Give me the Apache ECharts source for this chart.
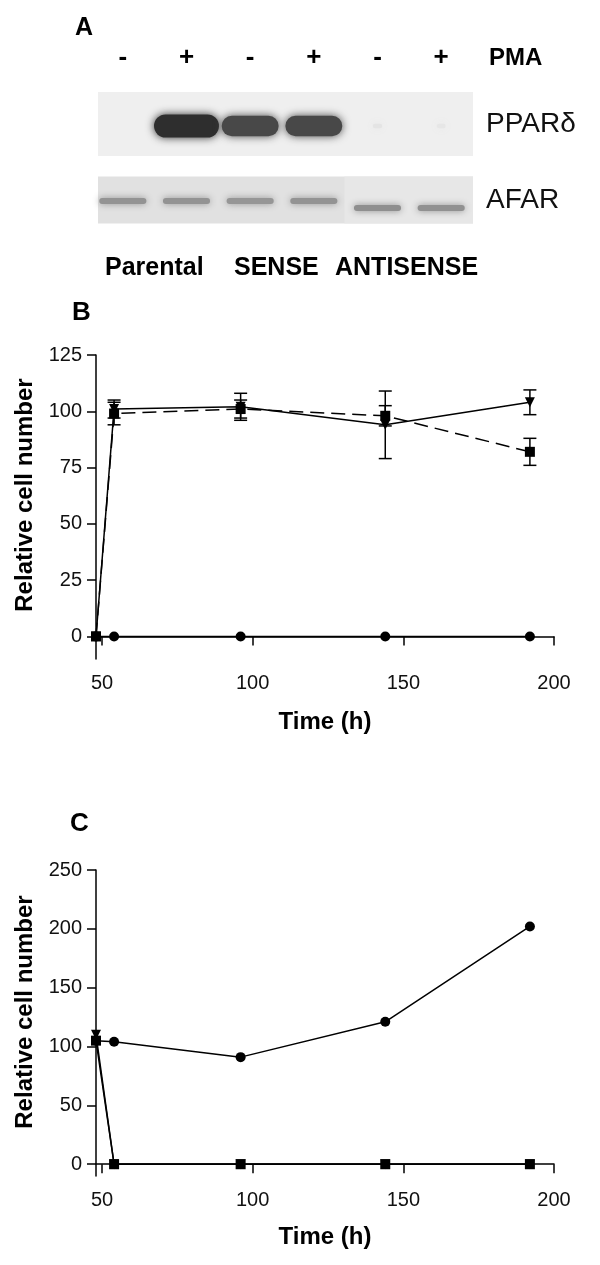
<!DOCTYPE html>
<html><head><meta charset="utf-8">
<script src="https://cdn.jsdelivr.net/npm/echarts@6/dist/echarts.min.js"></script>
<style>html,body{margin:0;padding:0;background:#fff}#c{width:600px;height:1265px}</style>
</head><body><div id="c"></div>
<script>
// ---- Panel A (western blot) ----
const lanes = ['L1','L2','L3','L4','L5','L6'];
const pmaSigns = ['-','+','-','+','-','+'];
const blotRows = ['PPARδ','AFAR'];
const pparIntensity = [0, 1, 0.86, 0.86, 0.03, 0.02];
const afarIntensity = [0.5, 0.5, 0.47, 0.5, 0.55, 0.52];
const cellLines = ['Parental','SENSE','ANTISENSE'];

// ---- Panels B and C ----
const times = [48, 54, 96, 144, 192];
const xTicks = [50, 100, 150, 200];
const bTicks = [0, 25, 50, 75, 100, 125];
const cTicks = [0, 50, 100, 150, 200, 250];

const bCircle   = [0, 0, 0, 0, 0];
const bTriangle = [0, 101, 102, 94, 104];
const bTriErr   = [0, 4, 6, 15, 5.5];
const bSquare   = [0, 99, 101, 98, 82];
const bSqErr    = [0, 5, 4, 4.5, 6];

const cCircle   = [105, 104, 91, 121, 202];
const cTriangle = [110, 0, 0, 0, 0];
const cSquare   = [105, 0, 0, 0, 0];

const FONT = "'Liberation Sans', Arial, Helvetica, sans-serif";
const INK = '#000';

function pts(arr){ return times.map((t,i)=>[t, arr[i]]); }
function errPts(arr, err){
  return times.map((t,i)=>[t, arr[i]-err[i], arr[i]+err[i]]).filter(d=>d[2]>d[1]);
}

function errItem(params, api){
  const x = api.value(0), lo = api.value(1), hi = api.value(2);
  const p1 = api.coord([x, lo]), p2 = api.coord([x, hi]);
  const cap = 6.5, st = {stroke: INK, lineWidth: 1.5};
  return {type:'group', children:[
    {type:'line', shape:{x1:p1[0],y1:p1[1],x2:p2[0],y2:p2[1]}, style:st},
    {type:'line', shape:{x1:p1[0]-cap,y1:p1[1],x2:p1[0]+cap,y2:p1[1]}, style:st},
    {type:'line', shape:{x1:p2[0]-cap,y1:p2[1],x2:p2[0]+cap,y2:p2[1]}, style:st}
  ]};
}

function panelBg(params, api){
  const row = api.value(0);
  const c0 = api.coord([0,row]), c5 = api.coord([5,row]);
  const bw = api.size([1,1])[0];
  const x0 = c0[0]-0.39*bw, x1 = c5[0]+0.5*bw;
  const h = row===0 ? 64 : 47;
  const children = [{type:'rect', shape:{x:x0, y:c0[1]-h/2, width:x1-x0, height:h},
    style:{fill: row===0 ? '#efefef' : '#e1e1e1'}}];
  if(row===1){
    const c4 = api.coord([4,row]);
    const xs = c4[0]-0.52*bw;
    children.push({type:'rect', shape:{x:xs, y:c0[1]-h/2, width:x1-xs, height:h},
      style:{fill:'#e7e7e7'}});
  }
  return {type:'group', children};
}

function bandItem(params, api){
  const lane = api.value(0), row = api.value(1), v = api.value(2);
  if(v <= 0) return null;
  const c = api.coord([lane,row]);
  const bw = api.size([1,1])[0];
  let w, h, g, dy, blur;
  if(row===0){
    w = bw*(0.12 + 0.9*v); h = 4 + 19*v; g = Math.round(234 - 188*v); dy = 2; blur = 9;
  } else {
    w = bw*0.74; h = 6; g = Math.round(192 - 90*v); dy = lane>=4 ? 8 : 1; blur = 7;
  }
  const col = 'rgb('+g+','+g+','+g+')';
  return {type:'rect', shape:{x:c[0]-w/2, y:c[1]+dy-h/2, width:w, height:h, r:h/2},
    style:{fill:col, shadowBlur:blur, shadowColor:col}};
}

const valueAxisCommon = {
  axisLine:{show:true, lineStyle:{color:INK, width:1.5}},
  axisTick:{show:true, length:9, lineStyle:{color:INK, width:1.5}},
  splitLine:{show:false},
  axisLabel:{color:'#111', fontSize:20, fontFamily:FONT}
};

function xAxisFor(gi, gap){
  return Object.assign({}, valueAxisCommon, {
    type:'value', gridIndex:gi, min:48, max:200,
    axisTick:Object.assign({}, valueAxisCommon.axisTick, {customValues:xTicks}),
    axisLabel:Object.assign({}, valueAxisCommon.axisLabel, {customValues:xTicks, margin:14}),
    name:'Time (h)', nameLocation:'middle', nameGap:gap,
    nameTextStyle:{fontSize:24, fontWeight:'bold', fontFamily:FONT, color:INK}
  });
}
function yAxisFor(gi, max, ticks){
  return Object.assign({}, valueAxisCommon, {
    type:'value', gridIndex:gi, min:-10, max:max,
    axisTick:Object.assign({}, valueAxisCommon.axisTick, {customValues:ticks}),
    axisLabel:Object.assign({}, valueAxisCommon.axisLabel, {customValues:ticks, margin:14})
  });
}

const lineCommon = {type:'line', clip:false, color:INK, symbolSize:10,
  lineStyle:{color:INK, width:1.5}, itemStyle:{color:INK}, animation:false};

const option = {
  animation:false,
  backgroundColor:'#fff',
  grid:[
    {left:91, top:86, width:382, height:152},
    {left:96, top:355, width:458, height:304},
    {left:96, top:870, width:458, height:306}
  ],
  xAxis:[
    {type:'category', gridIndex:0, data:lanes, position:'top',
      axisLine:{show:false}, axisTick:{show:false},
      axisLabel:{formatter:(v,i)=>pmaSigns[i], margin:15, color:INK,
        fontSize:26, fontWeight:'bold', fontFamily:FONT}},
    xAxisFor(1, 51), xAxisFor(2, 49)
  ],
  yAxis:[
    {type:'category', gridIndex:0, data:blotRows, inverse:true, position:'right',
      axisLine:{show:false}, axisTick:{show:false},
      axisLabel:{margin:13, color:'#111', fontSize:28, fontFamily:FONT, align:'left'}},
    yAxisFor(1, 125, bTicks), yAxisFor(2, 250, cTicks)
  ],
  graphic:[
    {type:'text', x:75, y:28, style:{text:'A', font:'bold 25px '+FONT, fill:INK, verticalAlign:'middle'}},
    {type:'text', x:489, y:58, style:{text:'PMA', font:'bold 24px '+FONT, fill:INK, verticalAlign:'middle'}},
    {type:'text', x:105, y:268, style:{text:cellLines[0], font:'bold 25px '+FONT, fill:INK, verticalAlign:'middle'}},
    {type:'text', x:234, y:268, style:{text:cellLines[1], font:'bold 25px '+FONT, fill:INK, verticalAlign:'middle'}},
    {type:'text', x:335, y:268, style:{text:cellLines[2], font:'bold 25px '+FONT, fill:INK, verticalAlign:'middle'}},
    {type:'text', x:72, y:313, style:{text:'B', font:'bold 26px '+FONT, fill:INK, verticalAlign:'middle'}},
    {type:'text', x:70, y:824, style:{text:'C', font:'bold 26px '+FONT, fill:INK, verticalAlign:'middle'}},
    {type:'text', x:25, y:495, rotation:Math.PI/2,
      style:{text:'Relative cell number', font:'bold 24px '+FONT, fill:INK, align:'center', verticalAlign:'middle'}},
    {type:'text', x:25, y:1012, rotation:Math.PI/2,
      style:{text:'Relative cell number', font:'bold 24px '+FONT, fill:INK, align:'center', verticalAlign:'middle'}}
  ],
  series:[
    {type:'custom', xAxisIndex:0, yAxisIndex:0, renderItem:panelBg, data:[[0],[1]], encode:{y:0}, z:1, silent:true},
    {type:'custom', xAxisIndex:0, yAxisIndex:0, renderItem:bandItem, z:2, silent:true,
      data: pparIntensity.map((v,i)=>[i,0,v]).concat(afarIntensity.map((v,i)=>[i,1,v])),
      encode:{x:0, y:1}},

    Object.assign({}, lineCommon, {xAxisIndex:1, yAxisIndex:1, data:pts(bCircle), symbol:'circle'}),
    Object.assign({}, lineCommon, {xAxisIndex:1, yAxisIndex:1, data:pts(bTriangle), symbol:'triangle', symbolRotate:180}),
    Object.assign({}, lineCommon, {xAxisIndex:1, yAxisIndex:1, data:pts(bSquare), symbol:'rect',
      lineStyle:{color:INK, width:1.5, type:[14,7]}}),
    {type:'custom', xAxisIndex:1, yAxisIndex:1, renderItem:errItem, data:errPts(bTriangle,bTriErr), encode:{x:0,y:[1,2]}, z:3},
    {type:'custom', xAxisIndex:1, yAxisIndex:1, renderItem:errItem, data:errPts(bSquare,bSqErr), encode:{x:0,y:[1,2]}, z:3},

    Object.assign({}, lineCommon, {xAxisIndex:2, yAxisIndex:2, data:pts(cCircle), symbol:'circle'}),
    Object.assign({}, lineCommon, {xAxisIndex:2, yAxisIndex:2, data:pts(cTriangle), symbol:'triangle', symbolRotate:180}),
    Object.assign({}, lineCommon, {xAxisIndex:2, yAxisIndex:2, data:pts(cSquare), symbol:'rect'})
  ]
};

const chart = echarts.init(document.getElementById('c'), null, {renderer:'canvas'});
chart.setOption(option);
</script>
</body></html>
